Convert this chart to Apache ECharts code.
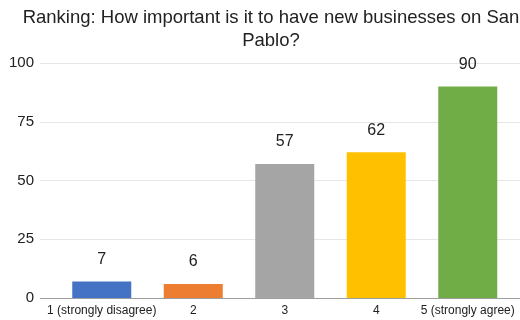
<!DOCTYPE html>
<html>
<head>
<meta charset="utf-8">
<script src="https://cdn.jsdelivr.net/npm/echarts@6/dist/echarts.min.js"></script>
<style>
  html, body { margin: 0; padding: 0; background: #fff; }
  #chart { width: 520px; height: 320px; }
</style>
</head>
<body>
<div id="chart"></div>
<script>
// Survey response counts per rating
const categories = ['1 (strongly disagree)', '2', '3', '4', '5 (strongly agree)'];
const counts = [7, 6, 57, 62, 90];
const barColors = ['#4472C4', '#ED7D31', '#A5A5A5', '#FFC000', '#70AD47'];
const yTicks = { min: 0, max: 100, interval: 25 };

const chart = echarts.init(document.getElementById('chart'), null, { renderer: 'canvas' });
const font = 'Liberation Sans, Arial, sans-serif';

chart.setOption({
  animation: false,
  title: {
    text: 'Ranking: How important is it to have new businesses on San\nPablo?',
    left: 266,
    textAlign: 'center',
    top: 1,
    textStyle: { fontFamily: font, fontSize: 18.5, fontWeight: 'normal', color: '#222', lineHeight: 23, align: 'center' }
  },
  grid: [
    // full-width grid carrying the value axis and its gridlines
    { left: 40, right: 0, top: 63, bottom: 22 },
    // inset grid where the bars sit
    { left: 56, right: 6.5, top: 63, bottom: 22 }
  ],
  xAxis: [
    { gridIndex: 0, type: 'category', data: categories, show: false },
    {
      gridIndex: 1, type: 'category', data: categories,
      axisLine: { show: false }, axisTick: { show: false },
      axisLabel: { fontFamily: font, fontSize: 12, color: '#222', margin: 7, interval: 0 }
    }
  ],
  yAxis: [
    {
      gridIndex: 0, type: 'value', min: yTicks.min, max: yTicks.max, interval: yTicks.interval,
      axisLine: { show: false }, axisTick: { show: false },
      axisLabel: { fontFamily: font, fontSize: 15, color: '#222', margin: 6 },
      splitLine: { lineStyle: { color: '#e6e6e6', width: 1 } }
    },
    {
      gridIndex: 1, type: 'value', min: yTicks.min, max: yTicks.max, interval: yTicks.interval,
      show: false, splitLine: { show: false }
    }
  ],
  series: [
    {
      // baseline along zero
      type: 'line', xAxisIndex: 0, yAxisIndex: 0, data: [], silent: true,
      markLine: {
        symbol: 'none', silent: true, label: { show: false },
        lineStyle: { color: '#9e9e9e', type: 'solid', width: 1 },
        data: [{ yAxis: 0 }]
      }
    },
    {
      type: 'bar', xAxisIndex: 1, yAxisIndex: 1,
      barWidth: 59,
      data: counts.map((v, i) => ({ value: v, itemStyle: { color: barColors[i] } })),
      label: {
        show: true, position: 'top', distance: 14,
        fontFamily: font, fontSize: 16, color: '#222'
      }
    }
  ]
});
</script>
</body>
</html>
